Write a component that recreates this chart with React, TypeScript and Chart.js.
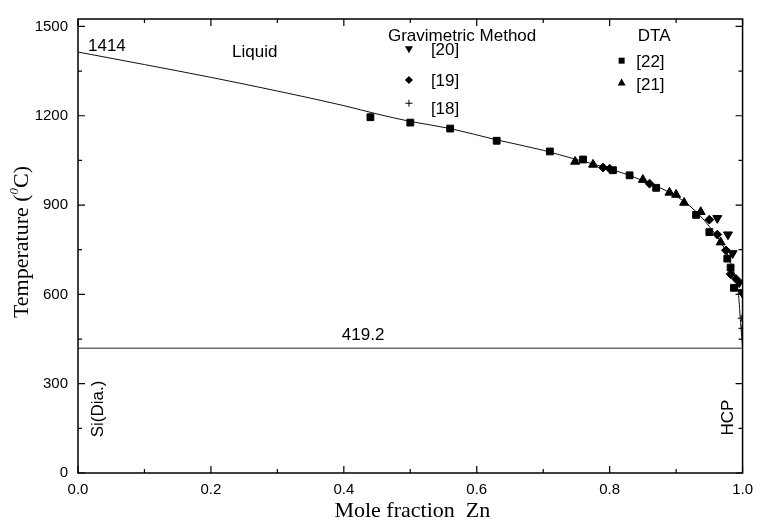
import React, { useEffect, useRef } from "react";
import { Chart, registerables } from "chart.js";

Chart.register(...registerables);

// ---- Data ----
const liquidusX = [0, 0.1, 0.2, 0.3, 0.4, 0.45, 0.5, 0.56, 0.63, 0.7, 0.75, 0.8, 0.85, 0.9, 0.93, 0.95, 0.97, 0.98, 0.99, 0.994, 0.997, 0.999, 1.0];
const liquidusT = [1414, 1372, 1329, 1283, 1234, 1206, 1181, 1157, 1119, 1084, 1053, 1022, 982, 930, 878, 828, 765, 718, 650, 596, 505, 450, 419.2];

const eutecticX = [0, 1];
const eutecticT = [419.2, 419.2];

// DTA [22] squares
const dta22X = [0.44, 0.5, 0.56, 0.63, 0.71, 0.76, 0.805, 0.83, 0.87, 0.93, 0.95, 0.977, 0.982, 0.987];
const dta22T = [1195, 1177, 1157, 1116, 1080, 1053, 1017, 1000, 958, 867, 809, 720, 690, 622];
// DTA [21] triangles
const dta21X = [0.748, 0.775, 0.85, 0.89, 0.9, 0.912, 0.937, 0.967];
const dta21T = [1046, 1036, 985, 942, 935, 908, 877, 775];
// Gravimetric [19] diamonds
const grav19X = [0.79, 0.8, 0.86, 0.95, 0.962, 0.975, 0.982, 0.99];
const grav19T = [1026, 1022, 972, 851, 801, 748, 668, 652];
// Gravimetric [20] inverted triangles
const grav20X = [0.962, 0.978, 0.985, 0.995, 0.999];
const grav20T = [856, 801, 738, 640, 607];
// Gravimetric [18] plus
const grav18X = [0.998, 0.999];
const grav18T = [520, 486];

const xTickValues = [0, 0.2, 0.4, 0.6, 0.8, 1.0];
const xMinorTicks = [0.1, 0.3, 0.5, 0.7, 0.9];
const yTickValues = [0, 300, 600, 900, 1200, 1500];
const yMinorTicks = [150, 450, 750, 1050, 1350];
const X_MIN = 0;
const X_MAX = 1;
const Y_MIN = 0;
const Y_MAX = 1525;

const SANS = "'Liberation Sans', Arial, sans-serif";
const SERIF = "'Liberation Serif', 'Times New Roman', serif";

const toPoints = (xs: number[], ys: number[]) => xs.map((x, i) => ({ x, y: ys[i] }));

function drawMarker(ctx: CanvasRenderingContext2D, kind: string, x: number, y: number) {
  ctx.save();
  ctx.fillStyle = "#000";
  ctx.strokeStyle = "#000";
  ctx.lineWidth = 1;
  ctx.beginPath();
  if (kind === "square") {
    ctx.rect(x - 3, y - 3, 6, 6);
    ctx.fill();
  } else if (kind === "triangle") {
    ctx.moveTo(x, y - 4.5);
    ctx.lineTo(x + 4, y + 2.5);
    ctx.lineTo(x - 4, y + 2.5);
    ctx.closePath();
    ctx.fill();
  } else if (kind === "invtriangle") {
    ctx.moveTo(x, y + 4.5);
    ctx.lineTo(x + 4, y - 2.5);
    ctx.lineTo(x - 4, y - 2.5);
    ctx.closePath();
    ctx.fill();
  } else if (kind === "diamond") {
    ctx.moveTo(x, y - 4);
    ctx.lineTo(x + 4, y);
    ctx.lineTo(x, y + 4);
    ctx.lineTo(x - 4, y);
    ctx.closePath();
    ctx.fill();
  } else if (kind === "plus") {
    ctx.moveTo(x - 3.5, y);
    ctx.lineTo(x + 3.5, y);
    ctx.moveTo(x, y - 3.5);
    ctx.lineTo(x, y + 3.5);
    ctx.stroke();
  }
  ctx.restore();
}

const framePlugin = {
  id: "frame",
  afterDraw(chart: any) {
    const ctx: CanvasRenderingContext2D = chart.ctx;
    const { left, right, top, bottom } = chart.chartArea;
    const xs = chart.scales.x;
    const ys = chart.scales.y;
    const px = (v: number) => xs.getPixelForValue(v);
    const py = (v: number) => ys.getPixelForValue(v);
    ctx.save();
    // frame
    ctx.strokeStyle = "#000";
    ctx.lineWidth = 1.5;
    ctx.strokeRect(left, top, right - left, bottom - top);
    // ticks
    ctx.lineWidth = 1.2;
    ctx.beginPath();
    const tick = (v: number, len: number, isX: boolean) => {
      if (isX) {
        const p = px(v);
        ctx.moveTo(p, bottom);
        ctx.lineTo(p, bottom - len);
        ctx.moveTo(p, top);
        ctx.lineTo(p, top + len);
      } else {
        const p = py(v);
        ctx.moveTo(left, p);
        ctx.lineTo(left + len, p);
        ctx.moveTo(right, p);
        ctx.lineTo(right - len, p);
      }
    };
    xTickValues.forEach((v) => tick(v, 7, true));
    xMinorTicks.forEach((v) => tick(v, 4, true));
    yTickValues.forEach((v) => tick(v, 7, false));
    yMinorTicks.forEach((v) => tick(v, 4, false));
    ctx.stroke();

    // annotations
    ctx.fillStyle = "#000";
    ctx.font = `17px ${SANS}`;
    ctx.textBaseline = "alphabetic";
    ctx.textAlign = "left";
    ctx.fillText("1414", px(0.015), py(1419));
    ctx.textAlign = "center";
    ctx.fillText("Liquid", px(0.266), py(1396));
    ctx.fillText("Gravimetric Method", px(0.578), py(1452));
    ctx.fillText("DTA", px(0.867), py(1452));
    ctx.fillText("419.2", px(0.429), py(448));

    // legend entries
    ctx.textAlign = "left";
    ctx.textBaseline = "middle";
    const gx = px(0.498);
    const gtx = px(0.531);
    drawMarker(ctx, "invtriangle", gx, py(1425));
    ctx.fillText("[20]", gtx, py(1419));
    drawMarker(ctx, "diamond", gx, py(1320));
    ctx.fillText("[19]", gtx, py(1316));
    drawMarker(ctx, "plus", gx, py(1242));
    ctx.fillText("[18]", gtx, py(1223));
    const dx = px(0.818);
    const dtx = px(0.84);
    drawMarker(ctx, "square", dx, py(1385));
    ctx.fillText("[22]", dtx, py(1379));
    drawMarker(ctx, "triangle", dx, py(1310));
    ctx.fillText("[21]", dtx, py(1303));

    // rotated phase labels
    ctx.textAlign = "center";
    ctx.textBaseline = "middle";
    ctx.save();
    ctx.translate(px(0.03), py(215));
    ctx.rotate(-Math.PI / 2);
    ctx.fillText("Si(Dia.)", 0, 0);
    ctx.restore();
    ctx.save();
    ctx.translate(px(0.979), py(186));
    ctx.rotate(-Math.PI / 2);
    ctx.fillText("HCP", 0, 0);
    ctx.restore();

    // axis titles
    ctx.font = `22px ${SERIF}`;
    ctx.textAlign = "center";
    ctx.textBaseline = "alphabetic";
    ctx.fillText("Mole fraction  Zn", (left + right) / 2 + 2, 517);

    ctx.save();
    ctx.translate(28, 242);
    ctx.rotate(-Math.PI / 2);
    const big = `22px ${SERIF}`;
    const small = `italic 13px ${SERIF}`;
    const p1 = "Temperature (";
    const p2 = "0";
    const p3 = "C)";
    ctx.font = big;
    const w1 = ctx.measureText(p1).width;
    const w3 = ctx.measureText(p3).width;
    ctx.font = small;
    const w2 = ctx.measureText(p2).width;
    const total = w1 + w2 + w3;
    let cx = -total / 2;
    ctx.textAlign = "left";
    ctx.font = big;
    ctx.fillText(p1, cx, 0);
    cx += w1;
    ctx.font = small;
    ctx.fillText(p2, cx, -10);
    cx += w2;
    ctx.font = big;
    ctx.fillText(p3, cx, 0);
    ctx.restore();

    ctx.restore();
  },
};

export default function App() {
  const canvasRef = useRef<HTMLCanvasElement | null>(null);

  useEffect(() => {
    document.body.style.margin = "0";
    const canvas = canvasRef.current;
    if (!canvas) return;
    const black = "#000";
    const chart = new Chart(canvas, {
      type: "scatter",
      data: {
        datasets: [
          {
            label: "[22]",
            data: toPoints(dta22X, dta22T),
            pointStyle: "rect",
            radius: 4.8,
            backgroundColor: black,
            borderColor: black,
            borderWidth: 1,
          },
          {
            label: "[21]",
            data: toPoints(dta21X, dta21T),
            pointStyle: "triangle",
            radius: 5.2,
            backgroundColor: black,
            borderColor: black,
            borderWidth: 1,
          },
          {
            label: "[19]",
            data: toPoints(grav19X, grav19T),
            pointStyle: "rectRot",
            radius: 4.4,
            backgroundColor: black,
            borderColor: black,
            borderWidth: 1,
          },
          {
            label: "[20]",
            data: toPoints(grav20X, grav20T),
            pointStyle: "triangle",
            rotation: 180,
            radius: 5.2,
            backgroundColor: black,
            borderColor: black,
            borderWidth: 1,
          },
          {
            label: "[18]",
            data: toPoints(grav18X, grav18T),
            pointStyle: "cross",
            radius: 3.5,
            backgroundColor: black,
            borderColor: black,
            borderWidth: 1,
          },
          {
            label: "Liquidus",
            data: toPoints(liquidusX, liquidusT),
            showLine: true,
            pointRadius: 0,
            borderColor: "#111",
            borderWidth: 1,
            cubicInterpolationMode: "monotone",
          },
          {
            label: "Eutectic",
            data: toPoints(eutecticX, eutecticT),
            showLine: true,
            pointRadius: 0,
            borderColor: "#222",
            borderWidth: 1,
          },
        ],
      },
      options: {
        animation: false,
        responsive: true,
        maintainAspectRatio: false,
        layout: { padding: { top: 13, right: 14, left: 0, bottom: 0 } },
        plugins: {
          legend: { display: false },
          tooltip: { enabled: false },
          title: { display: false },
        },
        scales: {
          x: {
            type: "linear",
            min: X_MIN,
            max: X_MAX,
            afterBuildTicks: (s: any) => {
              s.ticks = xTickValues.map((v) => ({ value: v }));
            },
            afterFit: (s: any) => {
              s.height = 50;
            },
            ticks: {
              callback: (v: any) => Number(v).toFixed(1),
              color: black,
              font: { family: SANS, size: 15 },
              padding: 8,
              maxRotation: 0,
              autoSkip: false,
            },
            grid: { display: false, drawTicks: false },
            border: { display: false },
          },
          y: {
            type: "linear",
            min: Y_MIN,
            max: Y_MAX,
            afterBuildTicks: (s: any) => {
              s.ticks = yTickValues.map((v) => ({ value: v }));
            },
            afterFit: (s: any) => {
              s.width = 78;
            },
            ticks: {
              callback: (v: any) => String(v),
              color: black,
              font: { family: SANS, size: 15 },
              padding: 10,
              autoSkip: false,
            },
            grid: { display: false, drawTicks: false },
            border: { display: false },
          },
        },
      },
      plugins: [framePlugin],
    });
    return () => chart.destroy();
  }, []);

  return (
    <div style={{ position: "absolute", left: 0, top: 0, width: 761, height: 523, background: "#fff" }}>
      <canvas ref={canvasRef} />
    </div>
  );
}
